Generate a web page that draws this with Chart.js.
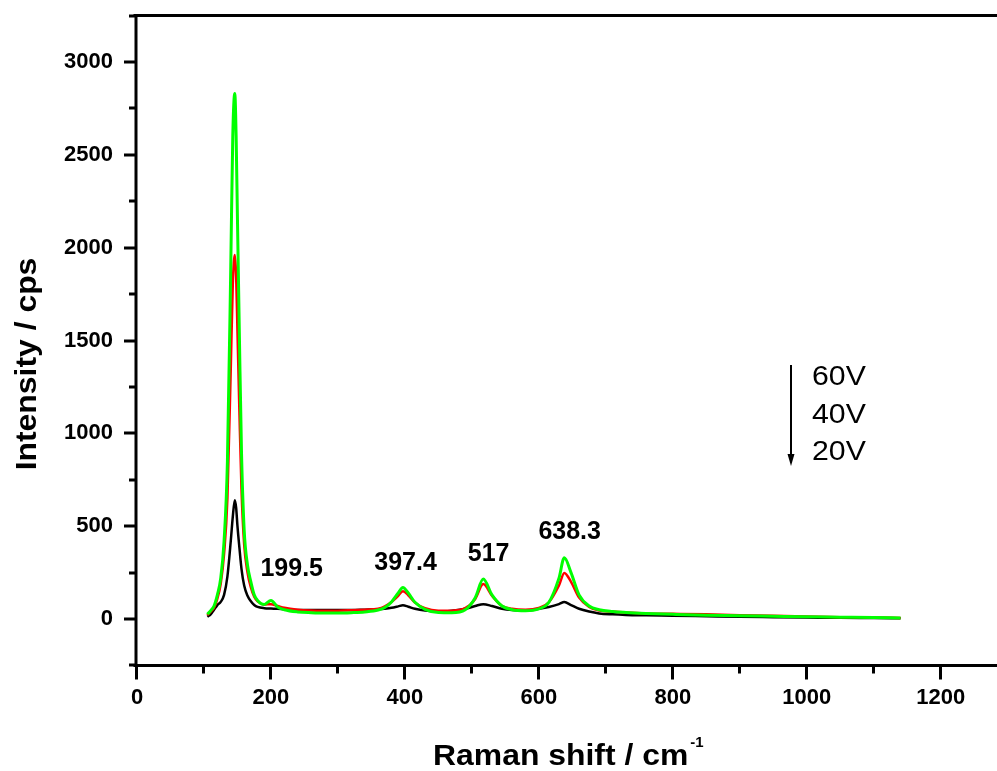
<!DOCTYPE html>
<html>
<head>
<meta charset="utf-8">
<script src="https://cdn.jsdelivr.net/npm/chart.js@4"></script>
<style>
  html, body { margin: 0; padding: 0; background: #fff; overflow: hidden; }
  #wrap { width: 997px; height: 771px; }
</style>
</head>
<body>
<div id="wrap"><canvas id="raman" width="997" height="771"></canvas></div>
<script>
// ── data ────────────────────────────────────────────────
const shifts = [105, 110, 115, 120, 125, 130, 135, 140, 143, 146, 148, 150, 153, 156, 160, 165, 170, 175, 180, 190,
  200, 210, 220, 240, 260, 280, 300, 320, 340, 360, 370, 380, 390, 397, 405, 415, 430, 450, 470, 490,
  505, 517, 530, 545, 560, 580, 600, 615, 630, 638, 648, 660, 675, 690, 710, 730, 760, 800, 850, 900,
  950, 1000, 1050, 1100, 1140];

const counts60V = [25, 45, 70, 130, 220, 420, 850, 1900, 2600, 2830, 2600, 2150, 1500, 900, 480, 290, 200, 130, 100, 78,
  100, 65, 50, 38, 34, 32, 32, 34, 38, 48, 62, 92, 140, 170, 140, 90, 52, 35, 34, 50,
  115, 215, 130, 70, 50, 45, 55, 90, 220, 330, 250, 130, 70, 50, 40, 35, 30, 25, 20, 18,
  15, 12, 10, 8, 5];

const counts40V = [20, 40, 60, 110, 190, 350, 650, 1350, 1800, 1960, 1850, 1550, 1100, 700, 400, 250, 170, 120, 95, 78,
  80, 70, 60, 50, 46, 45, 45, 47, 50, 55, 68, 92, 125, 150, 128, 88, 58, 45, 45, 58,
  108, 188, 125, 70, 55, 50, 60, 90, 180, 248, 200, 115, 65, 45, 40, 35, 30, 28, 25, 20,
  18, 14, 10, 8, 5];

const counts20V = [12, 25, 50, 75, 92, 130, 230, 420, 550, 640, 600, 500, 380, 270, 180, 125, 95, 75, 65, 58,
  56, 55, 52, 48, 48, 48, 48, 48, 50, 52, 55, 60, 68, 74, 66, 55, 45, 40, 45, 55,
  70, 80, 70, 55, 48, 45, 55, 65, 80, 91, 75, 55, 40, 30, 25, 22, 20, 18, 15, 12,
  10, 8, 6, 5, 4];

const xTicks = [0, 200, 400, 600, 800, 1000, 1200];
const yTicks = [0, 500, 1000, 1500, 2000, 2500, 3000];
const peakLabels = ['199.5', '397.4', '517', '638.3'];
const voltages = ['60V', '40V', '20V'];

const FONT = "'Liberation Sans', Arial, sans-serif";
const toPoints = vals => vals.map((v, i) => ({ x: shifts[i], y: v }));

// text drawn a little wider, the original was stretched sideways
function wideText(ctx, str, x, y, sx) {
  ctx.save();
  ctx.translate(x, y);
  ctx.scale(sx, 1);
  ctx.fillText(str, 0, 0);
  ctx.restore();
}

// ── frame, ticks, titles, notes ──────────────────────────
const decor = {
  id: 'decor',
  afterDraw(chart) {
    const { ctx, chartArea: a, scales: { x, y } } = chart;
    ctx.save();
    ctx.strokeStyle = '#000';
    ctx.lineWidth = 3;
    ctx.lineCap = 'square';

    ctx.beginPath();
    ctx.moveTo(a.left - 2, a.top); ctx.lineTo(a.right + 2, a.top);
    ctx.moveTo(a.left - 1, a.top); ctx.lineTo(a.left - 1, a.bottom);
    ctx.moveTo(a.left - 2, a.bottom); ctx.lineTo(a.right + 2, a.bottom);
    ctx.stroke();

    ctx.lineCap = 'butt';
    ctx.beginPath();
    for (let v = 0; v <= x.max; v += 100) {
      const px = Math.round(x.getPixelForValue(v)) - 0.5;
      const len = v % 200 === 0 ? 14 : 8;
      ctx.moveTo(px, a.bottom); ctx.lineTo(px, a.bottom + len);
    }
    for (let v = y.min; v <= y.max; v += 250) {
      const py = Math.round(y.getPixelForValue(v));
      const len = v % 500 === 0 ? 12 : 7;
      ctx.moveTo(a.left - 1, py); ctx.lineTo(a.left - 1 - len, py);
    }
    ctx.stroke();

    ctx.fillStyle = '#000';
    // peak notes
    ctx.font = `bold 25px ${FONT}`;
    ctx.textAlign = 'center';
    ctx.textBaseline = 'alphabetic';
    const spots = [[231, 232], [401, 264], [525, 312], [646, 431]];
    peakLabels.forEach((t, i) => {
      ctx.fillText(t, x.getPixelForValue(spots[i][0]), y.getPixelForValue(spots[i][1]));
    });

    // legend with arrow
    ctx.lineWidth = 2;
    ctx.beginPath();
    ctx.moveTo(791, 365); ctx.lineTo(791, 458);
    ctx.stroke();
    ctx.beginPath();
    ctx.moveTo(787.5, 454); ctx.lineTo(794.5, 454); ctx.lineTo(791, 466); ctx.closePath();
    ctx.fill();
    ctx.font = `28px ${FONT}`;
    ctx.textAlign = 'left';
    voltages.forEach((t, i) => wideText(ctx, t, 812, 385 + i * 37.5, 1.08));

    // axis titles
    ctx.font = `bold 29px ${FONT}`;
    ctx.textAlign = 'left';
    wideText(ctx, 'Raman shift / cm', 433, 765, 1.1);
    const w = ctx.measureText('Raman shift / cm').width * 1.1;
    ctx.font = `bold 15px ${FONT}`;
    ctx.fillText('-1', 433 + w + 2, 747);

    ctx.save();
    ctx.translate(36, 364);
    ctx.rotate(-Math.PI / 2);
    ctx.font = `bold 29px ${FONT}`;
    ctx.textAlign = 'center';
    wideText(ctx, 'Intensity / cps', 0, 0, 1.1);
    ctx.restore();

    ctx.restore();
  }
};

const tickFont = { family: FONT, size: 22, weight: 'bold' };

new Chart(document.getElementById('raman'), {
  type: 'line',
  data: {
    datasets: [
      { label: '60V', data: toPoints(counts60V), borderColor: '#00ff00', borderWidth: 3, order: 0 },
      { label: '40V', data: toPoints(counts40V), borderColor: '#ff0000', borderWidth: 2.5, order: 1 },
      { label: '20V', data: toPoints(counts20V), borderColor: '#000000', borderWidth: 2.5, order: 2 }
    ]
  },
  options: {
    responsive: false,
    animation: false,
    layout: { padding: { top: 15.6, right: 0, left: 0, bottom: 0 } },
    elements: {
      point: { radius: 0 },
      line: { cubicInterpolationMode: 'monotone', fill: false }
    },
    plugins: { legend: { display: false }, tooltip: { enabled: false } },
    scales: {
      x: {
        type: 'linear',
        min: 0,
        max: 1284,
        afterBuildTicks: s => { s.ticks = xTicks.map(v => ({ value: v })); },
        afterFit: s => { s.height = 105.6; s.paddingLeft = 0; s.paddingRight = 0; },
        grid: { display: false, drawTicks: false },
        border: { display: false },
        ticks: { font: tickFont, color: '#000', padding: 19, maxRotation: 0, callback: v => String(v) }
      },
      y: {
        min: -250,
        max: 3250,
        afterBuildTicks: s => { s.ticks = yTicks.map(v => ({ value: v })); },
        afterFit: s => { s.width = 137; s.paddingTop = 0; s.paddingBottom = 0; },
        grid: { display: false, drawTicks: false },
        border: { display: false },
        ticks: { font: tickFont, color: '#000', padding: 24, callback: v => String(v) }
      }
    }
  },
  plugins: [decor]
});
</script>
</body>
</html>
